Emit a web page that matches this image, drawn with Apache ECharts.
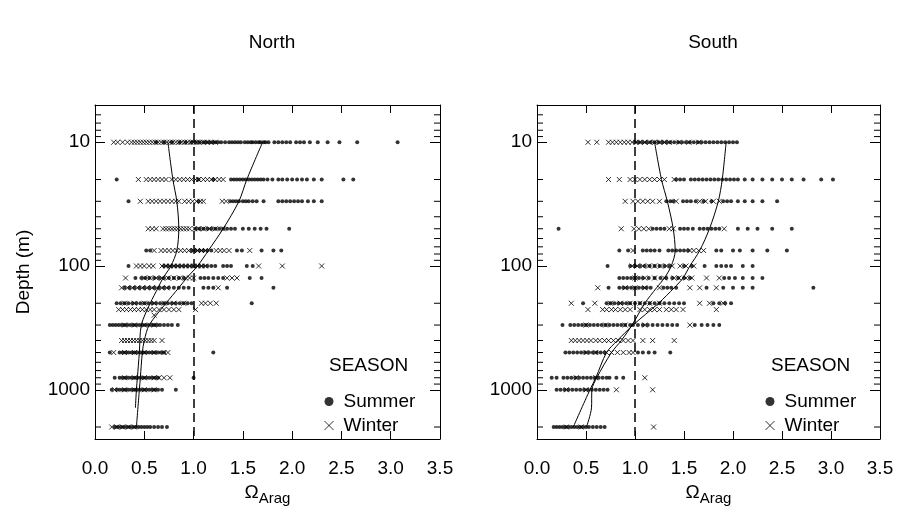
<!DOCTYPE html>
<html><head><meta charset="utf-8">
<script src="https://cdn.jsdelivr.net/npm/echarts@6/dist/echarts.min.js"></script>
<style>html,body{margin:0;padding:0;background:#fff}#c{width:898px;height:507px}</style>
</head><body><div id="c"></div>
<script>
// Depth levels (m), one row of Omega_Arag values per level in each array below
const depths = [10, 20, 30, 50, 75, 100, 125, 150, 200, 225, 250, 300, 400, 500, 800, 1000, 2000];

const northSummer = [
  [0.62,0.7,0.78,0.86,0.92,0.98,1.02,1.06,1.1,1.13,1.16,1.19,1.22,1.25,1.28,1.32,1.36,1.39,1.42,1.45,1.48,1.52,1.55,1.58,1.6,1.63,1.66,1.68,1.71,1.73,1.76,1.82,1.86,1.9,1.94,1.98,2.04,2.08,2.12,2.18,2.26,2.36,2.48,2.66,3.07],
  [0.22,1.05,1.2,1.38,1.41,1.44,1.47,1.5,1.53,1.56,1.59,1.62,1.65,1.68,1.71,1.75,1.8,1.86,1.9,1.95,2.0,2.05,2.1,2.15,2.22,2.3,2.52,2.62],
  [0.34,1.05,1.37,1.4,1.43,1.46,1.5,1.53,1.56,1.6,1.64,1.71,1.86,1.9,1.94,1.98,2.02,2.06,2.1,2.16,2.22,2.3],
  [1.02,1.06,1.1,1.14,1.18,1.22,1.26,1.3,1.34,1.38,1.42,1.5,1.56,1.62,1.68,1.74,1.97],
  [0.52,0.56,0.98,1.02,1.06,1.1,1.14,1.18,1.44,1.49,1.69,1.81,1.89],
  [0.34,0.7,0.74,0.78,0.82,0.86,0.9,0.94,0.98,1.02,1.06,1.1,1.14,1.18,1.22,1.3,1.34,1.38,1.54,1.6],
  [0.41,0.47,0.51,0.55,0.6,0.65,0.7,0.75,0.8,0.85,0.9,1.07,1.11,1.15,1.2,1.25,1.3,1.57,1.69],
  [0.3,0.35,0.4,0.45,0.5,0.55,0.6,0.65,0.7,0.75,0.8,0.85,0.9,0.95,1.1,1.15,1.2,1.34,1.81],
  [0.22,0.26,0.3,0.34,0.38,0.42,0.46,0.5,0.54,0.58,0.62,0.66,0.7,0.74,0.78,0.82,0.86,0.9,0.94,0.98,1.59],
  [],
  [],
  [0.15,0.18,0.21,0.24,0.27,0.3,0.33,0.36,0.39,0.42,0.45,0.48,0.51,0.54,0.57,0.6,0.63,0.66,0.7,0.74,0.78,0.84],
  [],
  [0.15,0.25,0.28,0.31,0.34,0.37,0.4,0.43,0.46,0.49,0.52,0.55,0.58,0.61,0.64,0.67,0.7,1.2],
  [0.2,0.25,0.28,0.31,0.34,0.37,0.4,0.43,0.46,0.49,0.52,0.55,0.58,0.61,0.64,1.0],
  [0.17,0.22,0.25,0.28,0.31,0.34,0.37,0.4,0.43,0.46,0.49,0.52,0.55,0.58,0.61,0.64,0.68,0.82],
  [0.2,0.23,0.26,0.29,0.32,0.35,0.38,0.41,0.44,0.47,0.5,0.53,0.56,0.6,0.64,0.68,0.73]
];
const northWinter = [
  [0.19,0.23,0.28,0.33,0.37,0.4,0.43,0.46,0.49,0.52,0.55,0.58,0.61,0.64,0.67,0.7,0.73,0.76,0.79,0.82,0.85,0.88,0.91,0.94,0.97,1.0,1.03,1.06,1.1,1.14,1.18,1.22],
  [0.44,0.52,0.56,0.6,0.64,0.68,0.72,0.78,0.82,0.86,0.9,0.94,0.98,1.02,1.05,1.1,1.14,1.18,1.22,1.26,1.3],
  [0.46,0.54,0.58,0.62,0.66,0.7,0.74,0.78,0.82,0.85,0.91,0.95,0.99,1.03,1.07,1.1,1.29,1.33],
  [0.54,0.58,0.62,0.69,0.72,0.75,0.78,0.81,0.84,0.87,0.9,0.93,0.96,1.01,1.05,1.1,1.16,1.22,1.3],
  [0.6,0.67,0.71,0.75,0.79,0.83,0.87,0.91,0.95,1.0,1.04,1.08,1.12,1.23,1.27,1.31,1.36,1.57],
  [0.42,0.46,0.5,0.55,0.59,0.68,0.72,0.76,0.8,0.84,0.88,0.92,0.96,1.0,1.04,1.08,1.12,1.66,1.9,2.3],
  [0.31,0.5,0.56,0.62,0.68,0.74,0.8,0.86,0.92,0.96,1.0,1.34,1.39,1.44],
  [0.27,0.33,0.38,0.43,0.48,0.53,0.58,0.63,0.68,0.73,1.25],
  [0.3,0.4,0.5,0.6,0.7,0.8,0.9,1.08,1.12,1.17,1.23],
  [0.24,0.28,0.32,0.36,0.4,0.44,0.48,0.52,0.56,0.6,0.65,0.7,0.75,0.8,0.85,1.02],
  [0.6],
  [0.3,0.4,0.5,0.6],
  [0.27,0.3,0.33,0.36,0.39,0.42,0.45,0.48,0.51,0.54,0.57,0.6,0.68],
  [0.19,0.3,0.4,0.5,0.6,0.7,0.74],
  [0.3,0.4,0.5,0.6,0.65,0.7,0.76],
  [0.2,0.3,0.4,0.5,0.6],
  [0.17,0.22,0.28,0.34,0.4]
];
const southSummer = [
  [1.0,1.04,1.08,1.12,1.16,1.2,1.24,1.28,1.32,1.36,1.4,1.44,1.48,1.52,1.56,1.6,1.64,1.68,1.72,1.76,1.8,1.84,1.88,1.92,1.96,2.0,2.04],
  [1.42,1.46,1.5,1.57,1.61,1.65,1.69,1.73,1.77,1.81,1.85,1.89,1.93,1.97,2.01,2.05,2.12,2.2,2.3,2.4,2.5,2.6,2.72,2.9,3.02],
  [1.32,1.36,1.39,1.49,1.53,1.57,1.62,1.7,1.78,1.9,1.94,1.98,2.05,2.12,2.2,2.3,2.45],
  [0.22,1.18,1.22,1.26,1.3,1.46,1.5,1.54,1.59,1.66,1.7,1.74,1.78,1.82,1.86,2.05,2.15,2.25,2.4,2.6],
  [0.84,0.93,1.08,1.12,1.16,1.2,1.25,1.34,1.38,1.42,1.46,1.5,1.54,1.83,1.88,2.0,2.07,2.2,2.35,2.55],
  [0.72,0.95,1.0,1.05,1.1,1.15,1.2,1.25,1.3,1.35,1.5,1.58,1.71,1.83,1.88,1.93,1.98,2.1,2.2],
  [0.84,0.88,0.92,0.96,1.0,1.04,1.08,1.14,1.2,1.26,1.32,1.38,1.44,1.5,1.56,1.91,1.96,2.02,2.1,2.2,2.3],
  [0.73,0.84,0.88,0.92,0.96,1.0,1.04,1.08,1.12,1.16,1.29,1.33,1.37,1.42,1.73,1.9,2.0,2.1,2.2,2.82],
  [0.47,0.71,0.75,0.79,0.83,0.87,0.91,0.95,1.0,1.05,1.1,1.15,1.2,1.25,1.3,1.35,1.4,1.45,1.5,1.8,1.86,1.92,1.98],
  [],
  [],
  [0.26,0.34,0.38,0.42,0.46,0.5,0.54,0.58,0.62,0.66,0.7,0.74,0.78,0.82,0.86,0.9,0.95,0.98,1.03,1.08,1.13,1.18,1.23,1.28,1.33,1.38,1.43,1.61,1.68,1.74,1.8,1.86],
  [],
  [0.29,0.33,0.37,0.41,0.45,0.49,0.53,0.57,0.61,0.65,0.69,1.03,1.08,1.14,1.2,1.36],
  [0.15,0.2,0.27,0.31,0.35,0.39,0.43,0.47,0.51,0.55,0.59,0.63,0.67,0.71,0.74,0.81,0.88],
  [0.2,0.24,0.28,0.32,0.36,0.4,0.44,0.48,0.52,0.56,0.6,0.64,0.68,0.72],
  [0.17,0.2,0.23,0.26,0.29,0.32,0.35,0.38,0.41,0.44,0.47,0.5,0.53,0.57,0.61,0.65,0.69]
];
const southWinter = [
  [0.52,0.61,0.73,0.77,0.81,0.85,0.89,0.93,0.97,1.01,1.05,1.1,1.15,1.2,1.25,1.3,1.35,1.45,1.55,1.65],
  [0.73,0.84,0.95,1.0,1.05,1.1,1.15,1.2,1.25,1.3,1.4],
  [0.9,0.98,1.03,1.08,1.13,1.18,1.25,1.42,1.66,1.72,1.8,1.86],
  [0.86,0.99,1.04,1.09,1.14,1.35,1.39,1.91],
  [0.98,1.56,1.6,1.65,1.7],
  [0.97,1.02,1.08,1.14,1.2,1.26,1.32,1.38,1.46,1.52,1.6],
  [1.0,1.1,1.2,1.3,1.4,1.45,1.52,1.58,1.73,1.86],
  [0.62,0.9,1.0,1.1,1.25,1.56,1.66,1.83],
  [0.35,0.59,0.75,0.85,0.95,1.05,1.15,1.25,1.66,1.76,1.9],
  [0.52,0.67,0.71,0.76,0.8,0.85,0.9,0.95,1.05,1.1,1.15,1.2,1.25,1.32,1.37,1.42,1.49,1.83],
  [],
  [0.5,0.7,0.9,1.1,1.56],
  [0.35,0.39,0.43,0.47,0.51,0.55,0.6,0.64,0.69,0.73,0.78,0.83,0.88,0.93,0.98,1.08,1.18,1.4],
  [0.5,0.6,0.71,0.76,0.82,0.88,0.94,0.98],
  [0.4,0.6,1.1],
  [0.3,0.5,0.81,1.18],
  [0.3,0.45,1.19]
];

// Smoothed profiles (depth, Omega)
const nSummerFitDepth = [10,20,30,50,75,100,125,150,200,300,400,500,800,1000,2000];
const nSummerFitX     = [1.70,1.54,1.46,1.30,1.15,1.04,0.93,0.85,0.72,0.55,0.50,0.48,0.46,0.45,0.42];
const nWinterFitDepth = [10,20,30,50,75,100,125,150,200,300,500,800,1000,1400];
const nWinterFitX     = [0.74,0.79,0.83,0.85,0.83,0.77,0.69,0.64,0.56,0.47,0.45,0.43,0.42,0.41];
const sSummerFitDepth = [10,20,30,50,75,100,125,150,200,300,400,500,800,1000,2000];
const sSummerFitX     = [1.93,1.89,1.85,1.76,1.66,1.56,1.49,1.40,1.24,0.98,0.82,0.71,0.60,0.54,0.37];
const sWinterFitDepth = [10,20,30,50,75,100,125,150,200,300,400,500,800,1000,1400,2000];
const sWinterFitX     = [1.20,1.27,1.33,1.39,1.41,1.37,1.30,1.22,1.10,0.97,0.86,0.76,0.61,0.56,0.556,0.505];

const panelTitles = ['North', 'South'];
const yLabelValues = [10, 100, 1000];
const minorTickDepths = [6,7,8,9,20,30,40,50,60,70,80,90,200,300,400,500,600,700,800,900,2000];

const FONT = '"Liberation Sans", Arial, Helvetica, sans-serif';
const CROSS = 'path://M0,0L10,10M0,10L10,0';

function toPoints(rows) { const out = []; depths.forEach((d, i) => rows[i].forEach(x => out.push([x, d]))); return out; }
function toLine(xs, ds) { return xs.map((x, i) => [x, ds[i]]); }

const chart = echarts.init(document.getElementById('c'), null, { renderer: 'canvas' });

const grids = [
  { left: 95, top: 105, width: 345, height: 334, outerBoundsMode: 'none', containLabel: false },
  { left: 537, top: 105, width: 343, height: 334, outerBoundsMode: 'none', containLabel: false }
];

function xAx(gi, pos, labels) {
  return {
    type: 'value', gridIndex: gi, position: pos, min: 0, max: 3.5, interval: 0.5,
    axisLine: { show: true, onZero: false, lineStyle: { color: '#000', width: 1 } },
    axisTick: { show: true, inside: true, length: 8, lineStyle: { color: '#000', width: 1 } },
    axisLabel: { show: labels, margin: 20, fontSize: 19, color: '#000', fontFamily: FONT, formatter: v => v.toFixed(1) },
    splitLine: { show: false },
    name: labels ? '{o|Ω}{s|Arag}' : '', nameLocation: 'middle', nameGap: 37,
    nameTextStyle: { color: '#000', fontFamily: FONT, rich: {
      o: { fontSize: 19, fontFamily: FONT, color: '#000', lineHeight: 28, verticalAlign: 'middle' },
      s: { fontSize: 15, fontFamily: FONT, color: '#000', lineHeight: 28, verticalAlign: 'bottom' } } }
  };
}
function yAx(gi, pos, labels, name) {
  return {
    type: 'log', logBase: 10, gridIndex: gi, position: pos, min: 5, max: 2500, inverse: true,
    axisLine: { show: true, onZero: false, lineStyle: { color: '#000', width: 1 } },
    axisTick: { show: true, inside: true, length: 10, lineStyle: { color: '#000', width: 1 } },
    axisLabel: { show: labels, margin: 5, fontSize: 19, color: '#000', fontFamily: FONT,
      formatter: v => { const r = Math.round(v); return yLabelValues.includes(r) ? String(r) : ''; } },
    splitLine: { show: false }, minorTick: { show: false },
    name: name || '', nameLocation: 'middle', nameRotate: 90, nameGap: 62,
    nameTextStyle: { fontSize: 19, color: '#000', fontFamily: FONT }
  };
}

function minorTickSeries(gi) {
  return {
    type: 'custom', xAxisIndex: gi * 2, yAxisIndex: gi * 2, silent: true, clip: false,
    data: minorTickDepths.map(d => [0, d]), encode: { x: 0, y: 1 },
    renderItem: (params, api) => {
      const d = api.value(1);
      const a = api.coord([0, d]);
      const b = api.coord([3.5, d]);
      return { type: 'group', children: [
        { type: 'line', shape: { x1: a[0], y1: a[1], x2: a[0] + 6, y2: a[1] }, style: { stroke: '#000', lineWidth: 1 } },
        { type: 'line', shape: { x1: b[0] - 6, y1: b[1], x2: b[0], y2: b[1] }, style: { stroke: '#000', lineWidth: 1 } }
      ] };
    }
  };
}

function panelSeries(gi, summerRows, winterRows, sFitX, sFitD, wFitX, wFitD) {
  const xi = gi * 2, yi = gi * 2;
  return [
    { type: 'scatter', name: 'Winter', xAxisIndex: xi, yAxisIndex: yi, symbol: CROSS, symbolSize: 5,
      itemStyle: { color: '#000', borderColor: '#000', borderWidth: 1 }, data: toPoints(winterRows), silent: true, z: 3 },
    { type: 'scatter', name: 'Summer', xAxisIndex: xi, yAxisIndex: yi, symbol: 'circle', symbolSize: 4,
      itemStyle: { color: '#000' }, data: toPoints(summerRows), silent: true, z: 3,
      markLine: { silent: true, symbol: 'none', label: { show: false },
        lineStyle: { color: '#000', type: [9, 5], width: 1.5 }, data: [{ xAxis: 1 }] } },
    { type: 'line', name: 'Summer fit', xAxisIndex: xi, yAxisIndex: yi, data: toLine(sFitX, sFitD), smooth: 0.3,
      showSymbol: false, lineStyle: { color: '#000', width: 1 }, silent: true, z: 4 },
    { type: 'line', name: 'Winter fit', xAxisIndex: xi, yAxisIndex: yi, data: toLine(wFitX, wFitD), smooth: 0.3,
      showSymbol: false, lineStyle: { color: '#000', width: 1 }, silent: true, z: 4 },
    minorTickSeries(gi)
  ];
}

function legendAt(left) {
  return {
    left: left, top: 387, orient: 'vertical', itemWidth: 9, itemHeight: 9, itemGap: 5, selectedMode: false,
    textStyle: { fontSize: 19, color: '#000', fontFamily: FONT, padding: [0, 0, 0, 5] },
    data: [
      { name: 'Summer', icon: 'circle', itemStyle: { color: '#000' } },
      { name: 'Winter', icon: CROSS, itemStyle: { color: '#000', borderColor: '#000', borderWidth: 1 } }
    ]
  };
}
const titleStyle = { fontSize: 19, fontWeight: 'normal', color: '#000', fontFamily: FONT };

chart.setOption({
  animation: false,
  backgroundColor: '#fff',
  title: [
    { text: panelTitles[0], left: 267, top: 28, textAlign: 'center', textStyle: titleStyle },
    { text: panelTitles[1], left: 708, top: 28, textAlign: 'center', textStyle: titleStyle },
    { text: 'SEASON', left: 324, top: 351, textStyle: titleStyle },
    { text: 'SEASON', left: 766, top: 351, textStyle: titleStyle }
  ],
  legend: [legendAt(319), legendAt(760)],
  grid: grids,
  xAxis: [xAx(0, 'bottom', true), xAx(0, 'top', false), xAx(1, 'bottom', true), xAx(1, 'top', false)],
  yAxis: [yAx(0, 'left', true, 'Depth (m)'), yAx(0, 'right', false), yAx(1, 'left', true), yAx(1, 'right', false)],
  series: [
    ...panelSeries(0, northSummer, northWinter, nSummerFitX, nSummerFitDepth, nWinterFitX, nWinterFitDepth),
    ...panelSeries(1, southSummer, southWinter, sSummerFitX, sSummerFitDepth, sWinterFitX, sWinterFitDepth)
  ]
});
</script></body></html>
